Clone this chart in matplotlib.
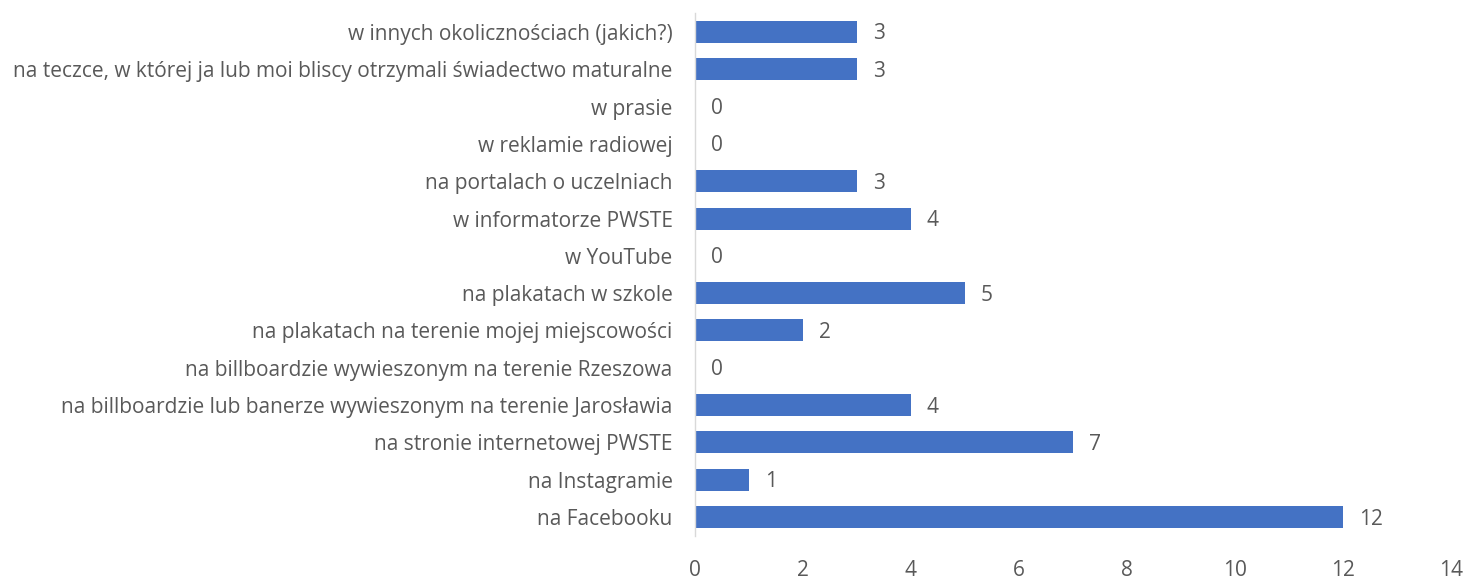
import matplotlib
matplotlib.use("Agg")
import matplotlib.pyplot as plt

categories = [
    "na Facebooku",
    "na Instagramie",
    "na stronie internetowej PWSTE",
    "na billboardzie lub banerze wywieszonym na terenie Jarosławia",
    "na billboardzie wywieszonym na terenie Rzeszowa",
    "na plakatach na terenie mojej miejscowości",
    "na plakatach w szkole",
    "w YouTube",
    "w informatorze PWSTE",
    "na portalach o uczelniach",
    "w reklamie radiowej",
    "w prasie",
    "na teczce, w której ja lub moi bliscy otrzymali świadectwo maturalne",
    "w innych okolicznościach (jakich?)",
]
values = [12, 1, 7, 4, 0, 2, 5, 0, 4, 3, 0, 0, 3, 3]
xticks = [0, 2, 4, 6, 8, 10, 12, 14]

plt.rcParams['font.family'] = ['Open Sans', 'DejaVu Sans']
TXT = "#595959"
FS = 15
fig = plt.figure(figsize=(14.66, 5.79), dpi=100)
ax = fig.add_axes([0.474, 0.0748, 0.5158, 0.9022])
y = list(range(len(categories)))
ax.barh(y, values, height=0.59, color="#4472C4")
ax.set_ylim(-0.5, len(categories) - 0.5)
ax.set_xlim(0, 14)
ax.set_yticks(y)
ax.set_yticklabels(categories, fontsize=FS, color=TXT)
ax.set_xticks(xticks)
ax.set_xticklabels([str(t) for t in xticks], fontsize=FS, color=TXT)
ax.tick_params(axis='y', length=0, pad=16)
ax.tick_params(axis='x', length=0, pad=17.5)
for s in ['top', 'right', 'bottom']:
    ax.spines[s].set_visible(False)
ax.spines['left'].set_color("#D9D9D9")
ax.spines['left'].set_linewidth(1.0)
for yi, v in zip(y, values):
    ax.annotate(str(v), (v, yi), xytext=(16, -2), textcoords='offset pixels',
                va='center', ha='left', fontsize=FS, color=TXT)
fig.savefig("out.png", dpi=100)
